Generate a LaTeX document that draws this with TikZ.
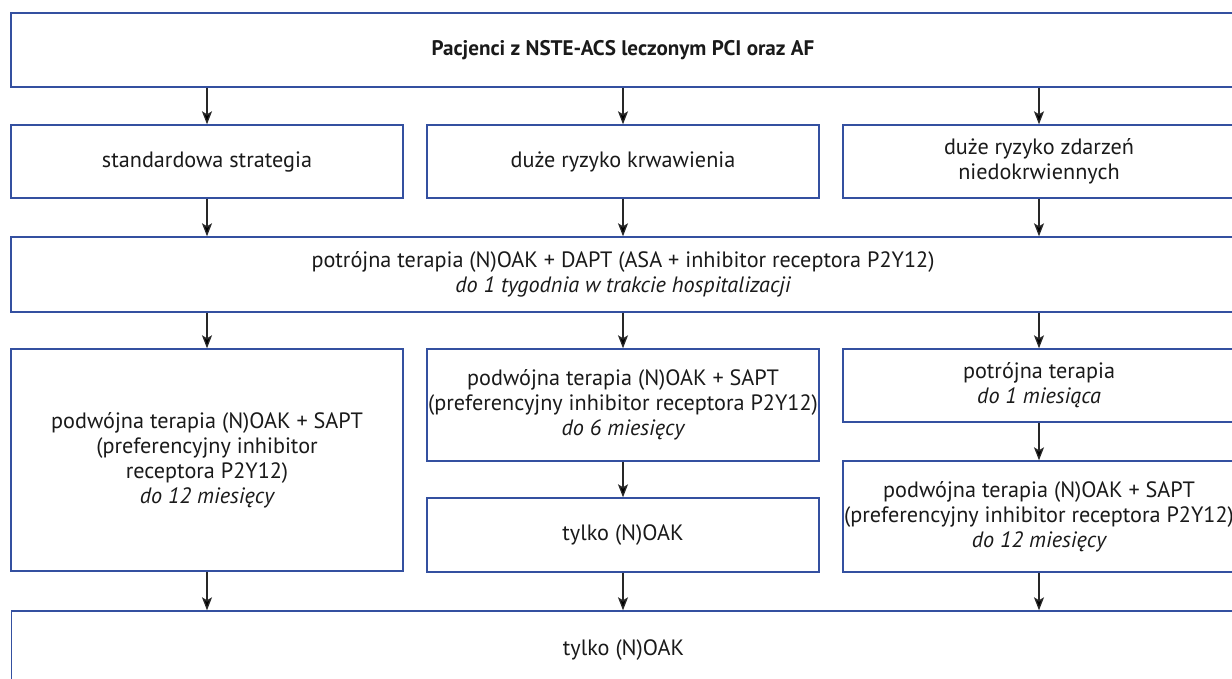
\documentclass[tikz,border=0pt]{standalone}
\usepackage{fontspec}
\setmainfont{PT Sans}
\usetikzlibrary{arrows.meta}
\definecolor{boxblue}{RGB}{52,80,160}
\definecolor{txt}{RGB}{26,26,26}
\definecolor{arrgray}{RGB}{40,40,40}
\tikzset{
  box/.style={draw=boxblue, line width=1.4pt, fill=white, align=center,
    inner sep=0pt, text=txt, font=\fontsize{22.2}{25}\selectfont},
  colbox/.style={box, minimum width=392pt},
  widebox/.style={box, minimum width=1224pt},
  arr/.style={draw=arrgray, line width=1.3pt,
    -{Stealth[length=13pt, width=10pt, inset=3pt, fill=black]}}
}
\begin{document}
\begin{tikzpicture}[x=1pt, y=-1pt]
\useasboundingbox (0,0) rectangle (1232,678);
\clip (0,0) rectangle (1232,678);

% header
\node[widebox, minimum height=74pt] (top) at (623,50)
  {\fontsize{21.1}{25}\selectfont\bfseries Pacjenci z NSTE-ACS leczonym PCI oraz AF};

% risk profiles
\node[colbox, minimum height=73pt] (s1) at (207,161.5) {standardowa strategia};
\node[colbox, minimum height=73pt] (s2) at (623,161.5) {duże ryzyko krwawienia};
\node[colbox, minimum height=73pt] (s3) at (1039,161.5) {duże ryzyko zdarzeń\\niedokrwiennych};

% initial triple therapy
\node[widebox, minimum height=75pt] (tri) at (623,274.5)
  {potrójna terapia (N)OAK + DAPT (ASA + inhibitor receptora P2Y12)\\
   \itshape do 1 tygodnia w trakcie hospitalizacji};

% left column
\node[colbox, minimum height=222pt] (l4) at (207,460)
  {podwójna terapia (N)OAK + SAPT\\(preferencyjny inhibitor\\receptora P2Y12)\\
   \itshape do 12 miesięcy};

% middle column
\node[colbox, minimum height=112pt] (m4) at (623,405)
  {podwójna terapia (N)OAK + SAPT\\(preferencyjny inhibitor receptora P2Y12)\\
   \itshape do 6 miesięcy};
\node[colbox, minimum height=74pt] (m5) at (623,535) {tylko (N)OAK};

% right column
\node[colbox, minimum height=73pt] (r4) at (1039,385.5)
  {potrójna terapia\\\itshape do 1 miesiąca};
\node[colbox, minimum height=111pt] (r5) at (1039,516.5)
  {podwójna terapia (N)OAK + SAPT\\(preferencyjny inhibitor receptora P2Y12)\\
   \itshape do 12 miesięcy};

% final step
\node[widebox, minimum height=78pt] (fin) at (623.5,650) {tylko (N)OAK};

% connectors
\foreach \n in {s1,s2,s3}
  \draw[arr] (top.south -| \n.north) -- (\n.north);
\foreach \n in {s1,s2,s3}
  \draw[arr] (\n.south) -- (\n.south |- tri.north);
\foreach \n in {l4,m4,r4}
  \draw[arr] (tri.south -| \n.north) -- (\n.north);
\draw[arr] (m4.south) -- (m5.north);
\draw[arr] (r4.south) -- (r5.north);
\foreach \n in {l4,m5,r5}
  \draw[arr] (\n.south) -- (\n.south |- fin.north);
\end{tikzpicture}
\end{document}
